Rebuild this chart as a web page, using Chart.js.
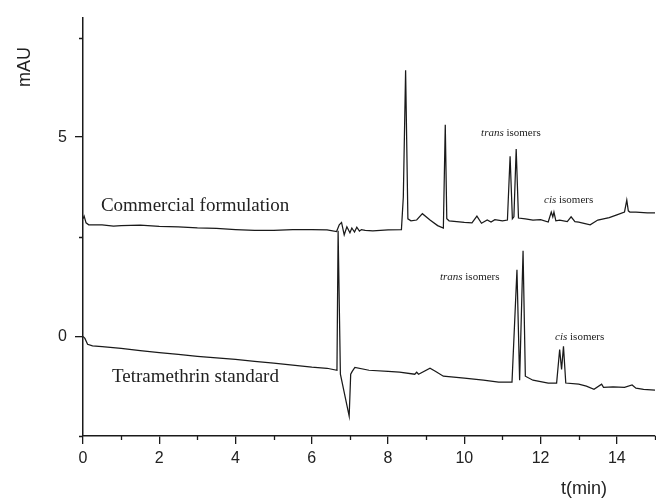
<!DOCTYPE html>
<html>
<head>
<meta charset="utf-8">
<script src="https://cdn.jsdelivr.net/npm/chart.js@4"></script>
<style>
  body { margin: 0; background: #fff; }
</style>
</head>
<body>
<canvas id="chart" width="656" height="500"></canvas>
<script>
// Commercial formulation trace (time in min, signal in mAU)
const commercialTime = [0, 0.03, 0.08, 0.15, 0.5, 0.8, 1.0, 1.5, 2.0, 2.5, 3.0, 3.5, 4.0, 4.5, 5.0, 5.5, 6.0, 6.4, 6.65, 6.72, 6.78, 6.85, 6.92, 7.0, 7.05, 7.12, 7.18, 7.25, 7.3, 7.4, 7.6, 8.0, 8.35, 8.4, 8.46, 8.52, 8.6, 8.75, 8.9, 9.1, 9.3, 9.45, 9.5, 9.54, 9.6, 9.8, 10.0, 10.2, 10.33, 10.45, 10.6, 10.7, 10.8, 11.0, 11.13, 11.2, 11.26, 11.3, 11.36, 11.42, 11.6, 11.8, 12.0, 12.2, 12.28, 12.32, 12.35, 12.4, 12.5, 12.7, 12.8, 12.9, 13.0, 13.3, 13.5, 13.8, 14.0, 14.2, 14.26, 14.3, 14.34, 14.5, 14.8, 15.0];
const commercialSignal = [2.95, 3.02, 2.85, 2.8, 2.8, 2.77, 2.78, 2.79, 2.76, 2.75, 2.72, 2.71, 2.68, 2.66, 2.66, 2.68, 2.68, 2.67, 2.63, 2.8, 2.86, 2.55, 2.75, 2.6, 2.72, 2.62, 2.74, 2.64, 2.68, 2.66, 2.65, 2.67, 2.68, 3.5, 6.68, 2.95, 2.9, 2.92, 3.08, 2.92, 2.78, 2.72, 5.31, 2.95, 2.9, 2.88, 2.86, 2.85, 3.02, 2.84, 2.92, 2.87, 2.93, 2.9, 2.92, 4.52, 2.95, 3.0, 4.7, 2.97, 2.95, 2.92, 2.93, 2.87, 3.12, 3.0, 3.12, 2.9, 2.92, 2.88, 3.0, 2.88, 2.87, 2.8, 2.92, 2.98, 3.05, 3.12, 3.42, 3.15, 3.12, 3.12, 3.1, 3.1];

// Tetramethrin standard trace
const standardTime = [0, 0.05, 0.12, 0.25, 0.5, 1.0, 1.5, 2.0, 2.5, 3.0, 3.5, 4.0, 4.5, 5.0, 5.5, 6.0, 6.4, 6.66, 6.69, 6.75, 6.98, 7.02, 7.06, 7.13, 7.5, 8.0, 8.3, 8.7, 8.75, 8.8, 9.1, 9.25, 9.45, 10.0, 10.5, 10.9, 11.25, 11.38, 11.45, 11.54, 11.6, 11.8, 12.2, 12.42, 12.5, 12.55, 12.6, 12.66, 13.0, 13.2, 13.4, 13.6, 13.65, 13.9, 14.2, 14.4, 14.5, 14.7, 15.0];
const standardSignal = [0.0, -0.05, -0.2, -0.24, -0.26, -0.3, -0.36, -0.41, -0.45, -0.5, -0.54, -0.58, -0.63, -0.67, -0.72, -0.77, -0.8, -0.85, 2.65, -0.95, -2.0, -0.95, -0.88, -0.78, -0.85, -0.88, -0.9, -0.95, -0.9, -0.95, -0.8, -0.88, -1.0, -1.05, -1.1, -1.15, -1.15, 1.67, -1.1, 2.15, -1.0, -1.1, -1.17, -1.17, -0.33, -0.83, -0.25, -1.17, -1.2, -1.25, -1.33, -1.2, -1.28, -1.27, -1.28, -1.22, -1.3, -1.33, -1.35];

const xTicks = [0, 2, 4, 6, 8, 10, 12, 14];
const xMinorTicks = [1, 3, 5, 7, 9, 11, 13, 15];
const yTicks = [0, 5];
const yMinorTicks = [-2.5, 2.5, 7.5];

// label text and anchor (time, mAU)
const traceLabels = [
  { text: "Commercial formulation", t: 0.47, v: 3.28 },
  { text: "Tetramethrin standard", t: 0.76, v: -1.03 }
];
const isomerLabels = [
  { kind: "trans", t: 10.44, v: 5.1 },
  { kind: "cis", t: 12.09, v: 3.43 },
  { kind: "trans", t: 9.36, v: 1.48 },
  { kind: "cis", t: 12.38, v: -0.03 }
];

const toPoints = (xs, ys) => xs.map((x, i) => ({ x: x, y: ys[i] }));
const ink = "#1a1a1a";

const annotations = {
  id: "annotations",
  afterDraw(chart) {
    const ctx = chart.ctx;
    const xs = chart.scales.x;
    const ys = chart.scales.y;
    ctx.save();
    ctx.strokeStyle = ink;
    ctx.lineWidth = 1.3;
    ctx.beginPath();
    xMinorTicks.forEach(v => {
      const px = Math.round(xs.getPixelForValue(v)) + 0.5;
      ctx.moveTo(px, ys.bottom);
      ctx.lineTo(px, ys.bottom + 4);
    });
    yMinorTicks.forEach(v => {
      const py = Math.round(ys.getPixelForValue(v)) + 0.5;
      ctx.moveTo(xs.left - 4, py);
      ctx.lineTo(xs.left, py);
    });
    ctx.stroke();

    ctx.fillStyle = "#222";
    ctx.textBaseline = "middle";
    ctx.font = "18px 'Liberation Sans', Arial, sans-serif";
    ctx.textAlign = "center";
    ctx.fillText("t(min)", 584, 489);
    ctx.save();
    ctx.translate(25, 67);
    ctx.rotate(-Math.PI / 2);
    ctx.fillText("mAU", 0, 0);
    ctx.restore();

    ctx.textAlign = "left";
    ctx.font = "19px 'Liberation Serif', 'Times New Roman', serif";
    traceLabels.forEach(l => {
      ctx.fillText(l.text, xs.getPixelForValue(l.t), ys.getPixelForValue(l.v));
    });

    isomerLabels.forEach(l => {
      const px = xs.getPixelForValue(l.t);
      const py = ys.getPixelForValue(l.v);
      ctx.font = "italic 11px 'Liberation Serif', 'Times New Roman', serif";
      ctx.fillText(l.kind, px, py);
      const w = ctx.measureText(l.kind + " ").width;
      ctx.font = "11px 'Liberation Serif', 'Times New Roman', serif";
      ctx.fillText("isomers", px + w, py);
    });
    ctx.restore();
  }
};

const lineStyle = {
  showLine: true,
  borderColor: ink,
  borderWidth: 1.25,
  pointRadius: 0,
  tension: 0,
  fill: false
};

const axisStyle = {
  border: { display: true, color: ink, width: 1.5 },
  grid: { drawOnChartArea: false, drawTicks: true, tickLength: 8, color: ink, lineWidth: 1.3 },
  ticks: { color: "#222", font: { family: "'Liberation Sans', Arial, sans-serif", size: 16 }, padding: 5 }
};

new Chart(document.getElementById("chart"), {
  type: "scatter",
  data: {
    datasets: [
      Object.assign({ label: "Commercial formulation", data: toPoints(commercialTime, commercialSignal) }, lineStyle),
      Object.assign({ label: "Tetramethrin standard", data: toPoints(standardTime, standardSignal) }, lineStyle)
    ]
  },
  options: {
    responsive: false,
    animation: false,
    layout: { padding: { top: 15, right: 1, left: 0, bottom: 0 } },
    plugins: { legend: { display: false }, tooltip: { enabled: false } },
    scales: {
      x: Object.assign({
        type: "linear",
        min: 0,
        max: 15,
        afterBuildTicks: s => { s.ticks = xTicks.map(v => ({ value: v })); },
        afterFit: s => { s.height = 64; }
      }, axisStyle),
      y: Object.assign({
        type: "linear",
        min: -2.5,
        max: 8,
        afterBuildTicks: s => { s.ticks = yTicks.map(v => ({ value: v })); },
        afterFit: s => { s.width = 83; }
      }, axisStyle, { ticks: Object.assign({}, axisStyle.ticks, { padding: 8 }) })
    }
  },
  plugins: [annotations]
});
</script>
</body>
</html>
